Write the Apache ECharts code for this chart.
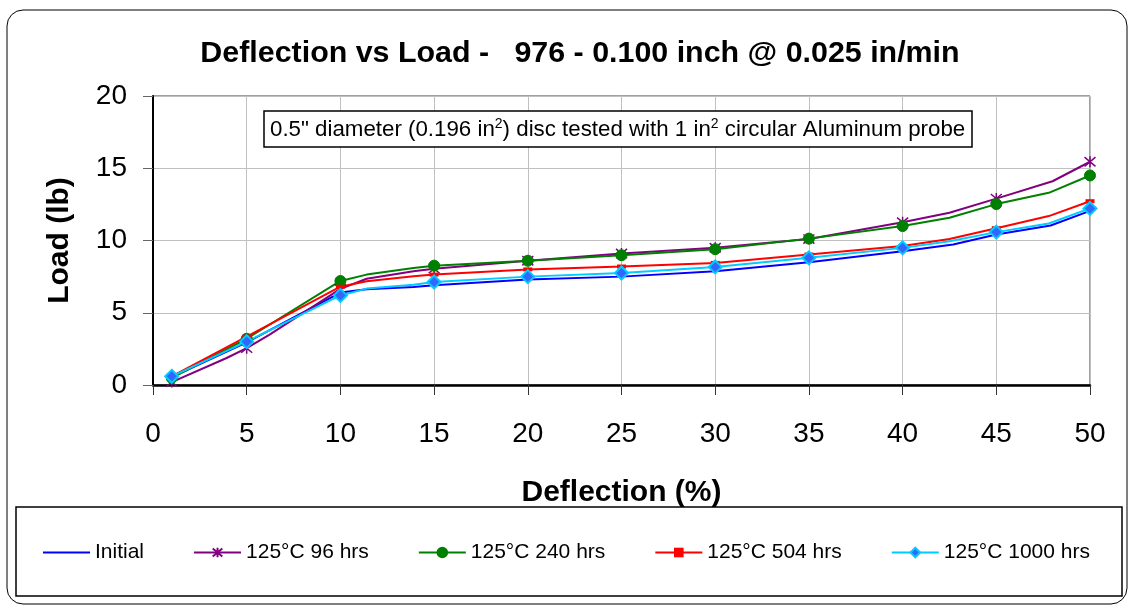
<!DOCTYPE html>
<html>
<head>
<meta charset="utf-8">
<script src="https://cdn.jsdelivr.net/npm/echarts@6/dist/echarts.min.js"></script>
<style>
  html, body { margin: 0; padding: 0; background: #fff; }
  #chart { width: 1130px; height: 608px; }
</style>
</head>
<body>
<div id="chart"></div>
<script>
// 刻度
const xTicks = [0, 5, 10, 15, 20, 25, 30, 35, 40, 45, 50];
const yTicks = [0, 5, 10, 15, 20];
// 只在这些点上画标记
const markerX = [1, 5, 10, 15, 20, 25, 30, 35, 40, 45, 50];

// Initial
const initialX = [1, 5, 10, 11.4, 13.9, 15, 20, 25, 30, 35, 40, 42.7, 45, 47.9, 50];
const initialY = [0.55, 2.95, 6.4, 6.62, 6.78, 6.9, 7.3, 7.5, 7.87, 8.5, 9.26, 9.72, 10.42, 11.04, 12.05];
// 125°C 96 hrs
const h96X = [1, 3.9, 5, 6.2, 10, 11.4, 13.9, 15, 20, 25, 30, 35, 40, 42.5, 45, 48, 50];
const h96Y = [0.2, 1.85, 2.55, 3.47, 6.65, 7.35, 7.87, 8.05, 8.6, 9.1, 9.5, 10.1, 11.27, 11.92, 12.9, 14.1, 15.45];
// 125°C 240 hrs
const h240X = [1, 5, 10, 11.4, 13.9, 15, 20, 25, 30, 35, 40, 42.5, 45, 47.8, 50];
const h240Y = [0.5, 3.2, 7.2, 7.64, 8.1, 8.26, 8.6, 8.98, 9.4, 10.13, 11.0, 11.57, 12.52, 13.3, 14.5];
// 125°C 504 hrs
const h504X = [1, 5, 10, 11.4, 13.9, 15, 20, 25, 30, 35, 40, 42.5, 45, 47.8, 50];
const h504Y = [0.6, 3.35, 6.8, 7.18, 7.52, 7.64, 8.0, 8.2, 8.45, 9.03, 9.62, 10.1, 10.85, 11.69, 12.72];
// 125°C 1000 hrs
const h1000X = [1, 5, 10, 11.4, 13.9, 15, 20, 25, 30, 35, 40, 42.5, 45, 47.8, 50];
const h1000Y = [0.6, 3.0, 6.2, 6.67, 6.94, 7.13, 7.5, 7.75, 8.17, 8.8, 9.49, 9.95, 10.58, 11.18, 12.22];

const FONT = "'Liberation Sans', Arial, sans-serif";

function buildData(xs, ys) {
  return xs.map((x, i) => {
    if (markerX.indexOf(x) >= 0) {
      return { value: [x, ys[i]] };
    }
    return { value: [x, ys[i]], symbol: "none" };
  });
}

function lineSeries(name, xs, ys, color, symbol, symbolSize, itemStyle) {
  return {
    name: name,
    type: "line",
    data: buildData(xs, ys),
    symbol: symbol,
    symbolSize: symbolSize,
    showSymbol: true,
    lineStyle: { width: 2, color: color },
    itemStyle: itemStyle || { color: color },
    emphasis: { disabled: true },
    animation: false,
  };
}

const chart = echarts.init(document.getElementById("chart"));

let option = {
  backgroundColor: "#fff",
  title: [
    {
      text: "Deflection vs Load -   976 - 0.100 inch @ 0.025 in/min",
      left: 575,
      top: 34,
      textAlign: "center",
      textStyle: { fontFamily: FONT, fontSize: 30.4, fontWeight: "bold", color: "#000" },
    },
    {
      // 说明框
      text: '{t|0.5" diameter (0.196 in}{s|2}{t|) disc tested with 1 in}{s|2}{t| circular Aluminum probe}',
      left: 264,
      top: 111,
      padding: [6, 7, 6, 6],
      borderColor: "#000",
      borderWidth: 1.5,
      backgroundColor: "#fff",
      textStyle: {
        fontWeight: "normal",
        rich: {
          t: { fontFamily: FONT, fontSize: 22.3, fontWeight: "normal", color: "#000", lineHeight: 26 },
          s: { fontFamily: FONT, fontSize: 14, fontWeight: "normal", color: "#000", verticalAlign: "top", lineHeight: 26 },
        },
      },
    },
  ],
  graphic: [
    {
      type: "rect",
      shape: { x: 7, y: 10, width: 1120, height: 594, r: 16 },
      style: { fill: "none", stroke: "#000", lineWidth: 1 },
      silent: true,
    },
    {
      type: "rect",
      shape: { x: 16, y: 507, width: 1106, height: 89 },
      style: { fill: "none", stroke: "#000", lineWidth: 1.5 },
      silent: true,
    },
  ],
  legend: {
    left: 42,
    top: 542,
    padding: 0,
    itemGap: 49,
    itemWidth: 47,
    itemHeight: 12,
    textStyle: { fontFamily: FONT, fontSize: 21, color: "#000" },
    data: [
      { name: "Initial", itemStyle: { opacity: 0 } },
      "125°C 96 hrs",
      "125°C 240 hrs",
      "125°C 504 hrs",
      "125°C 1000 hrs",
    ],
  },
  grid: {
    left: 153,
    right: 40,
    top: 96,
    bottom: 223,
    show: true,
    borderColor: "#404040",
    borderWidth: 1,
  },
  xAxis: {
    type: "value",
    min: xTicks[0],
    max: xTicks[xTicks.length - 1],
    interval: 5,
    name: "Deflection (%)",
    nameLocation: "middle",
    nameGap: 93,
    nameTextStyle: { fontFamily: FONT, fontSize: 30, fontWeight: "bold", color: "#000" },
    axisLine: { show: true, lineStyle: { color: "#000", width: 2.5 } },
    axisTick: { show: true, length: 10, lineStyle: { color: "#333" } },
    axisLabel: { margin: 35, fontFamily: FONT, fontSize: 28, color: "#000" },
    splitLine: { show: true, lineStyle: { color: "#c0c0c0", width: 1 } },
  },
  yAxis: {
    type: "value",
    min: yTicks[0],
    max: yTicks[yTicks.length - 1],
    interval: 5,
    name: "Load (lb)",
    nameLocation: "middle",
    nameGap: 78,
    nameTextStyle: { fontFamily: FONT, fontSize: 30, fontWeight: "bold", color: "#000" },
    axisLine: { show: true, lineStyle: { color: "#000", width: 2 } },
    axisTick: { show: true, length: 10, lineStyle: { color: "#666" } },
    axisLabel: { margin: 26, fontFamily: FONT, fontSize: 28, color: "#000" },
    splitLine: { show: true, lineStyle: { color: "#c0c0c0", width: 1 } },
  },
  series: [
    lineSeries("Initial", initialX, initialY, "#0000ff", "none", 0),
    lineSeries("125°C 96 hrs", h96X, h96Y, "#800080",
      "path://M0,0L10,10M10,0L0,10M5,-1L5,11", 11,
      { color: "#800080", borderColor: "#800080", borderWidth: 1.5 }),
    lineSeries("125°C 240 hrs", h240X, h240Y, "#008000", "circle", 11,
      { color: "#008000", borderColor: "#008000", borderWidth: 1 }),
    lineSeries("125°C 504 hrs", h504X, h504Y, "#ff0000", "rect", [9, 4],
      { color: "#ff0000", borderColor: "#ff0000", borderWidth: 0 }),
    lineSeries("125°C 1000 hrs", h1000X, h1000Y, "#00ccff", "diamond", 13,
      { color: "#3366ff", borderColor: "#00ccff", borderWidth: 2 }),
  ],
};

chart.setOption(option);
</script>
</body>
</html>
